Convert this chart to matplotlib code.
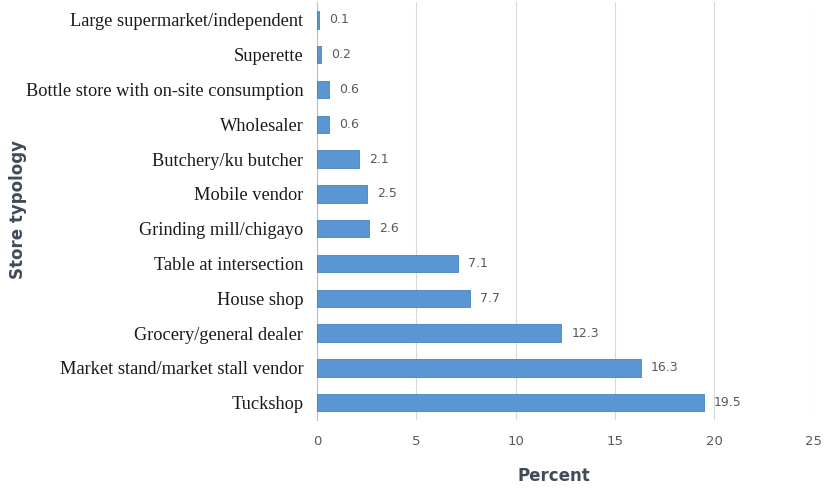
import numpy as np
import matplotlib.pyplot as plt

stores = [
    "Tuckshop",
    "Market stand/market stall vendor",
    "Grocery/general dealer",
    "House shop",
    "Table at intersection",
    "Grinding mill/chigayo",
    "Mobile vendor",
    "Butchery/ku butcher",
    "Wholesaler",
    "Bottle store with on-site consumption",
    "Superette",
    "Large supermarket/independent",
]
percent = [19.5, 16.3, 12.3, 7.7, 7.1, 2.6, 2.5, 2.1, 0.6, 0.6, 0.2, 0.1]
xticks = [0, 5, 10, 15, 20, 25]

fig = plt.figure(figsize=(8.24, 4.88), dpi=100)
ax = fig.add_axes([0.385, 0.139, 0.602, 0.856])

y = np.arange(len(stores))
ax.barh(y, percent, height=0.5, color="#5b96d4", edgecolor="#4a80c0", linewidth=0.6, zorder=3)
for yi, v in zip(y, percent):
    ax.text(v + 0.5, yi, f"{v}", va="center", ha="left", fontsize=9, color="#595959")

ax.set_xlim(0, 25)
ax.set_ylim(-0.5, len(stores) - 0.5)
ax.set_xticks(xticks)
ax.set_xticklabels([str(t) for t in xticks], color="#595959", fontsize=9.5)
ax.set_yticks(y)
ax.set_yticklabels(stores, family="Liberation Serif", fontsize=13.2, color="#1a1a1a")
ax.tick_params(length=0, pad=10)
ax.tick_params(axis="x", pad=11)
ax.grid(axis="x", color="#d9d9d9", linewidth=0.8, zorder=0)
for s in ["top", "right", "bottom"]:
    ax.spines[s].set_visible(False)
ax.spines["left"].set_color("#bfbfbf")

fig.text(0.672, 0.006, "Percent", ha="center", va="bottom", fontsize=12, fontweight="bold", color="#404a58")
fig.text(0.022, 0.57, "Store typology", ha="center", va="center", rotation=90, fontsize=12, fontweight="bold", color="#404a58")

fig.savefig("out.png", dpi=100)
